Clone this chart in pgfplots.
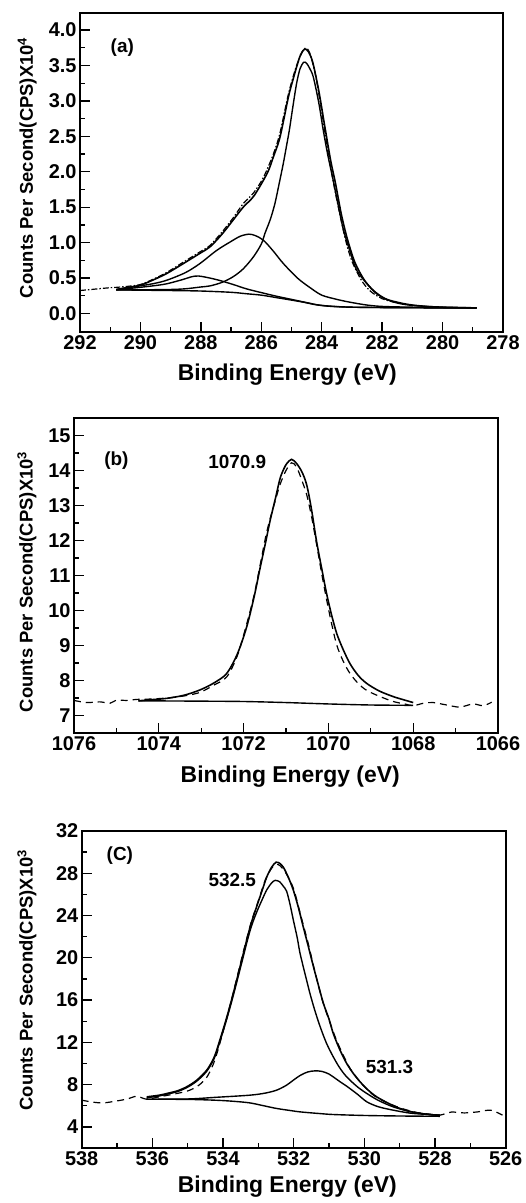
\documentclass[border=0pt]{standalone}
\usepackage{fontspec}
\setmainfont{Liberation Sans}
\usepackage{pgfplots}
\pgfplotsset{compat=1.18}
\pgfplotsset{xps/.style={
  scale only axis, x dir=reverse,
  axis line style={line width=1.8pt},
  tick align=inside, xtick pos=bottom, ytick pos=left,
  major tick length=10bp, minor tick length=5bp,
  every tick/.style={black, line width=1.3pt},
  minor tick num=1,
  tick label style={font=\fontsize{20}{20}\selectfont\bfseries},
  /pgf/number format/assume math mode=true,
  /pgf/number format/1000 sep={},
  xlabel style={font=\fontsize{23}{23}\selectfont\bfseries, anchor=center},
  ylabel style={font=\fontsize{18.5}{18.5}\selectfont\bfseries, anchor=center, rotate=0},
  every axis plot/.append style={line width=1.4pt, black},
  xlabel={Binding Energy (eV)},
}}
\tikzset{lbl/.style={font=\fontsize{19}{19}\selectfont\bfseries}}
\begin{document}
\begin{tikzpicture}
\useasboundingbox (0,0) rectangle (526bp,-1203bp);
% ---------------- (a)
\begin{axis}[xps, at={(80bp,-13bp)}, anchor=north west, width=423bp, height=319bp,
  xmin=278, xmax=292, ymin=-0.26, ymax=4.24,
  xtick={278,280,...,292}, ytick={0,0.5,...,4.0},
  yticklabel style={/pgf/number format/fixed, /pgf/number format/fixed zerofill, /pgf/number format/precision=1},
  ylabel={Counts Per Second(CPS)X10\textsuperscript{4}},
  x label style={at={(axis description cs:0.49,0)}, yshift=-43bp},
  y label style={at={(axis description cs:-0.125,0.515)}},
]
% raw data
\addplot[line width=1.2pt, dash pattern=on 6pt off 2pt on 1.5pt off 2pt, smooth] table {
292.0 0.325
291.5 0.345
291.0 0.365
290.79 0.37
290.4 0.385
290.0 0.41
289.6 0.48
289.13 0.58
288.6 0.72
288.03 0.87
287.7 0.96
287.3 1.15
286.93 1.35
286.6 1.55
286.26 1.70
285.93 1.92
285.6 2.25
285.38 2.55
285.10 3.10
284.83 3.50
284.57 3.74
284.4 3.68
284.2 3.35
284.0 2.85
283.8 2.30
283.6 1.82
283.4 1.40
283.2 1.02
283.0 0.74
282.7 0.48
282.4 0.32
282.0 0.21
281.6 0.16
281.4 0.14
};
% background
\addplot[smooth] table {
290.8 0.335
290.0 0.330
289.0 0.325
288.0 0.318
287.0 0.300
286.5 0.280
286.0 0.260
285.5 0.225
285.0 0.19
284.6 0.16
284.2 0.125
283.8 0.105
283.4 0.095
283.0 0.090
282.0 0.085
280.0 0.080
278.87 0.080
};
% component 284.6
\addplot[smooth] table {
290.8 0.335
290.0 0.335
289.0 0.34
288.5 0.35
288.0 0.375
287.7 0.39
287.3 0.44
286.93 0.52
286.6 0.63
286.26 0.80
286.0 0.98
285.88 1.13
285.7 1.33
285.55 1.55
285.4 1.85
285.27 2.12
285.15 2.40
285.07 2.59
284.95 2.93
284.83 3.25
284.72 3.45
284.6 3.545
284.5 3.53
284.4 3.46
284.28 3.34
284.1 2.98
283.95 2.59
283.8 2.24
283.62 1.88
283.45 1.52
283.28 1.18
283.05 0.86
282.84 0.61
282.5 0.42
282.18 0.28
281.8 0.19
281.41 0.14
281.0 0.115
280.5 0.10
280.0 0.09
279.5 0.085
278.87 0.08
};
% component 286.4
\addplot[smooth] table {
290.8 0.34
290.24 0.376
289.6 0.42
289.13 0.47
288.5 0.58
288.03 0.706
287.48 0.89
287.03 1.01
286.7 1.09
286.41 1.12
286.2 1.10
285.93 1.035
285.6 0.88
285.27 0.706
284.8 0.50
284.4 0.37
284.0 0.26
283.5 0.20
283.06 0.16
282.5 0.12
281.97 0.10
281.0 0.09
280.0 0.085
278.87 0.08
};
% component 288.1
\addplot[smooth] table {
290.8 0.335
290.24 0.36
289.6 0.39
289.13 0.42
288.6 0.48
288.3 0.52
288.08 0.53
287.8 0.51
287.4 0.47
286.93 0.41
286.5 0.35
286.04 0.30
285.5 0.245
285.0 0.20
284.5 0.155
284.0 0.115
283.0 0.09
281.0 0.082
278.87 0.08
};
% envelope
\addplot[line width=1.6pt, smooth] table {
290.79 0.34
290.4 0.37
290.01 0.40
289.6 0.47
289.13 0.565
288.6 0.70
288.03 0.85
287.70 0.94
287.3 1.12
286.93 1.32
286.6 1.50
286.26 1.65
285.93 1.88
285.75 2.03
285.60 2.21
285.38 2.49
285.10 3.06
284.95 3.30
284.83 3.48
284.7 3.65
284.57 3.73
284.45 3.70
284.3 3.55
284.1 3.15
283.89 2.62
283.7 2.15
283.55 1.85
283.35 1.40
283.15 1.05
282.9 0.72
282.6 0.48
282.3 0.33
281.9 0.21
281.4 0.15
281.0 0.12
280.5 0.10
280.0 0.09
279.5 0.085
278.87 0.08
};
\node[lbl] at (axis cs:290.6,3.75) {(a)};
\end{axis}
% ---------------- (b)
\begin{axis}[xps, at={(74bp,-418bp)}, anchor=north west, width=424bp, height=315bp,
  xmin=1066, xmax=1076, ymin=6.5, ymax=15.5,
  xtick={1066,1068,...,1076}, ytick={7,8,...,15},
  ylabel={Counts Per Second(CPS)X10\textsuperscript{3}},
  x label style={at={(axis description cs:0.51,0)}, yshift=-44bp},
  y label style={at={(axis description cs:-0.111,0.48)}},
]
\addplot[line width=1.2pt, dash pattern=on 7pt off 5pt, smooth] table {
1076.0 7.43
1075.70 7.37
1075.39 7.39
1075.15 7.35
1075.0 7.44
1074.76 7.43
1074.52 7.46
1074.2 7.47
1073.81 7.50
1073.4 7.56
1073.03 7.66
1072.7 7.87
1072.40 8.1
1072.15 8.7
1071.93 9.6
1071.75 10.45
1071.61 11.3
1071.48 12.1
1071.38 12.6
1071.25 13.15
1071.14 13.6
1071.0 14.0
1070.87 14.22
1070.75 14.1
1070.62 13.7
1070.51 13.3
1070.4 12.7
1070.28 11.9
1070.15 11.0
1070.04 10.3
1069.92 9.6
1069.80 9.0
1069.65 8.55
1069.49 8.2
1069.3 7.92
1069.10 7.72
1068.8 7.55
1068.47 7.40
1068.2 7.33
1068.0 7.28
1067.76 7.35
1067.53 7.37
1067.21 7.30
1066.90 7.24
1066.59 7.33
1066.35 7.28
1066.15 7.38
};
\addplot[smooth] table {
1074.48 7.42
1073.0 7.41
1072.0 7.40
1071.0 7.37
1070.0 7.33
1069.0 7.30
1068.0 7.29
};
\addplot[line width=1.6pt, smooth] table {
1074.48 7.42
1074.2 7.45
1073.81 7.49
1073.4 7.58
1073.03 7.73
1072.7 7.93
1072.40 8.20
1072.15 8.75
1071.93 9.52
1071.75 10.4
1071.61 11.22
1071.48 11.95
1071.38 12.54
1071.25 13.2
1071.14 13.77
1071.05 14.05
1070.98 14.2
1070.87 14.32
1070.75 14.2
1070.62 13.95
1070.51 13.58
1070.4 12.9
1070.28 11.98
1070.15 11.15
1070.04 10.47
1069.92 9.85
1069.80 9.33
1069.65 8.88
1069.49 8.48
1069.3 8.15
1069.10 7.92
1068.8 7.70
1068.47 7.54
1068.2 7.44
1068.0 7.37
};
\node[lbl] at (axis cs:1075.0,14.29) {(b)};
\node[lbl] at (axis cs:1072.15,14.24) {1070.9};
\end{axis}
% ---------------- (c)
\begin{axis}[xps, at={(81.7bp,-831bp)}, anchor=north west, width=424bp, height=317bp,
  xmin=526, xmax=538, ymin=2, ymax=32,
  xtick={526,528,...,538}, ytick={4,8,...,32},
  ylabel={Counts Per Second(CPS)X10\textsuperscript{3}},
  x label style={at={(axis description cs:0.485,0)}, yshift=-39bp},
  y label style={at={(axis description cs:-0.129,0.53)}},
]
\addplot[line width=1.2pt, dash pattern=on 7pt off 5pt, smooth] table {
538.0 6.53
537.7 6.35
537.39 6.27
537.01 6.45
536.7 6.65
536.44 6.9
536.16 6.62
535.8 6.85
535.4 7.1
535.0 7.4
534.7 7.9
534.46 8.7
534.28 9.9
534.15 11.2
534.0 13.0
533.8 15.5
533.6 18.2
533.4 20.9
533.2 23.4
533.0 25.4
532.8 27.4
532.62 28.5
532.50 28.85
532.38 28.7
532.2 27.9
532.0 26.5
531.8 24.0
531.6 21.5
531.4 18.7
531.2 16.1
531.0 14.1
530.8 12.3
530.6 10.8
530.4 9.5
530.2 8.6
530.0 7.8
529.7 6.9
529.3 6.2
528.9 5.7
528.5 5.35
528.1 5.18
527.86 5.11
527.54 5.4
527.17 5.32
526.79 5.42
526.42 5.58
526.09 5.11
};
% background
\addplot[smooth] table {
536.16 6.62
535.0 6.60
534.19 6.52
533.7 6.42
533.24 6.27
532.85 6.0
532.48 5.74
532.1 5.55
531.82 5.42
531.3 5.27
530.88 5.17
530.0 5.08
529.0 5.03
527.86 5.0
};
% component 531.3
\addplot[smooth] table {
536.16 6.62
535.0 6.64
534.19 6.8
533.24 7.0
532.8 7.2
532.48 7.48
532.2 7.95
532.01 8.42
531.8 8.9
531.6 9.2
531.4 9.30
531.2 9.25
531.0 9.0
530.88 8.73
530.7 8.3
530.50 7.85
530.2 7.1
529.93 6.37
529.6 5.9
529.18 5.58
528.7 5.3
528.23 5.18
527.86 5.1
};
% component 532.5
\addplot[smooth] table {
536.16 6.76
535.8 6.93
535.59 7.09
535.3 7.33
535.03 7.71
534.75 8.31
534.46 9.27
534.25 10.48
534.09 12.07
533.9 14.14
533.71 16.43
533.5 19.15
533.33 21.4
533.2 22.95
533.05 24.3
532.9 25.45
532.76 26.45
532.62 27.1
532.52 27.33
532.40 27.2
532.30 26.8
532.20 26.3
532.10 25.0
532.01 23.57
531.9 21.9
531.82 20.42
531.68 18.5
531.54 16.63
531.4 15.0
531.25 13.47
531.07 11.9
530.88 10.63
530.7 9.6
530.50 8.73
530.2 7.8
529.93 7.16
529.6 6.5
529.18 5.89
528.7 5.45
528.23 5.2
527.86 5.08
};
% envelope
\addplot[line width=1.6pt, smooth] table {
536.16 6.84
535.8 7.0
535.59 7.16
535.3 7.40
535.03 7.79
534.75 8.40
534.46 9.37
534.25 10.6
534.09 12.21
533.9 14.3
533.71 16.63
533.5 19.4
533.33 21.68
533.2 23.3
533.05 24.83
532.9 26.3
532.76 27.67
532.62 28.6
532.50 29.04
532.40 28.95
532.29 28.56
532.15 27.6
532.01 26.4
531.87 24.8
531.73 22.94
531.58 21.0
531.44 19.15
531.3 17.4
531.16 15.69
531.0 14.2
530.88 12.84
530.7 11.35
530.50 10.0
530.3 9.0
530.12 8.26
529.9 7.5
529.65 6.84
529.3 6.2
528.99 5.74
528.7 5.45
528.42 5.27
528.1 5.15
527.86 5.11
};
\node[lbl] at (axis cs:536.92,29.63) {(C)};
\node[lbl] at (axis cs:533.74,27.36) {532.5};
\node[lbl] at (axis cs:529.29,9.62) {531.3};
\end{axis}
\end{tikzpicture}
\end{document}
